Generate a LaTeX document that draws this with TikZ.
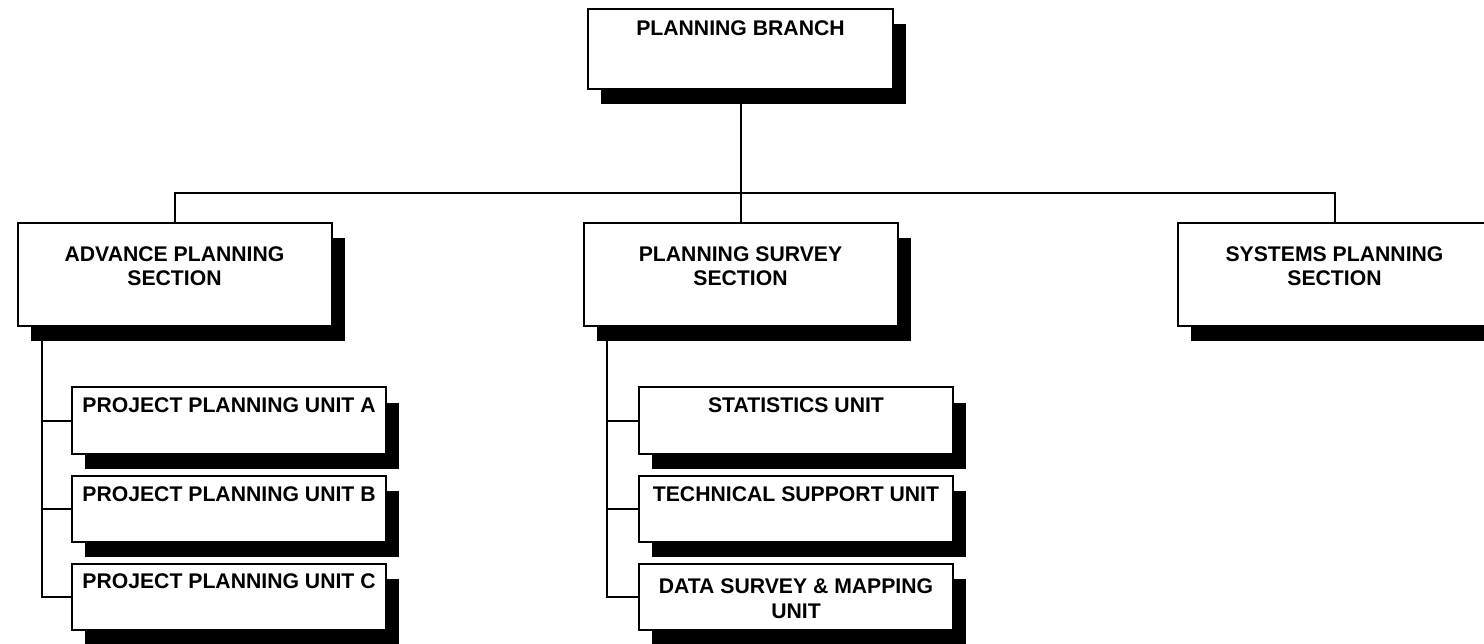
\documentclass[tikz,border=0pt]{standalone}
\usepackage{fontspec}
\setmainfont{Liberation Sans}
\usetikzlibrary{shadows}
\begin{document}
\begin{tikzpicture}[x=1pt,y=-1pt,
  orgbox/.style={draw=black, line width=2pt, fill=white, inner sep=0pt,
    minimum width=314pt, drop shadow={shadow xshift=13pt, shadow yshift=-15pt, opacity=1, fill=black}},
  secbox/.style={orgbox, minimum height=103pt},
  unitbox/.style={orgbox, minimum height=66pt},
  lbl/.style={font=\bfseries\fontsize{21.2}{24.5}\selectfont, align=center, inner sep=0pt, anchor=north},
  conn/.style={draw=black, line width=2pt}]
\clip (0,0) rectangle (1484,644);
\fill[white] (0,0) rectangle (1484,644);
% boxes
\node[orgbox, minimum width=305pt, minimum height=80pt] (top) at (740.5,49) {};
\node[secbox] (adv) at (174.5,274.5) {};
\node[secbox] (sur) at (740.5,274.5) {};
\node[secbox] (sys) at (1334.5,274.5) {};
\node[unitbox] (ua) at (229,420.5) {};
\node[unitbox] (ub) at (229,509) {};
\node[unitbox] (uc) at (229,596.5) {};
\node[unitbox] (us) at (796,420.5) {};
\node[unitbox] (ut) at (796,509) {};
\node[unitbox] (ud) at (796,596.5) {};
% labels
\node[lbl] (topt) at ([yshift=-13pt]top.north) {PLANNING BRANCH};
\node[lbl] (advt) at ([yshift=-24pt]adv.north) {ADVANCE PLANNING\\SECTION};
\node[lbl] (surt) at ([yshift=-24pt]sur.north) {PLANNING SURVEY\\SECTION};
\node[lbl] (syst) at ([yshift=-24pt]sys.north) {SYSTEMS PLANNING\\SECTION};
\node[lbl] (uat) at ([yshift=-11pt]ua.north) {PROJECT PLANNING UNIT A};
\node[lbl] (ubt) at ([yshift=-11pt]ub.north) {PROJECT PLANNING UNIT B};
\node[lbl] (uct) at ([yshift=-11pt]uc.north) {PROJECT PLANNING UNIT C};
\node[lbl] (ust) at ([yshift=-11pt]us.north) {STATISTICS UNIT};
\node[lbl] (utt) at ([yshift=-11pt]ut.north) {TECHNICAL SUPPORT UNIT};
\node[lbl] (udt) at ([yshift=-16pt]ud.north) {DATA SURVEY \& MAPPING\\UNIT};
% connectors
\coordinate (bus) at (740.5,193);
\draw[conn] (top.south) -- (sur.north);
\draw[conn] (adv.north) |- (bus) -| (sys.north);
\coordinate (advtrunk) at ([xshift=25pt]adv.south west);
\coordinate (surtrunk) at ([xshift=24pt]sur.south west);
\draw[conn] (advtrunk) |- (ua.west);
\draw[conn] (advtrunk) |- (ub.west);
\draw[conn] (advtrunk) |- (uc.west);
\draw[conn] (surtrunk) |- (us.west);
\draw[conn] (surtrunk) |- (ut.west);
\draw[conn] (surtrunk) |- (ud.west);
\end{tikzpicture}
\end{document}
